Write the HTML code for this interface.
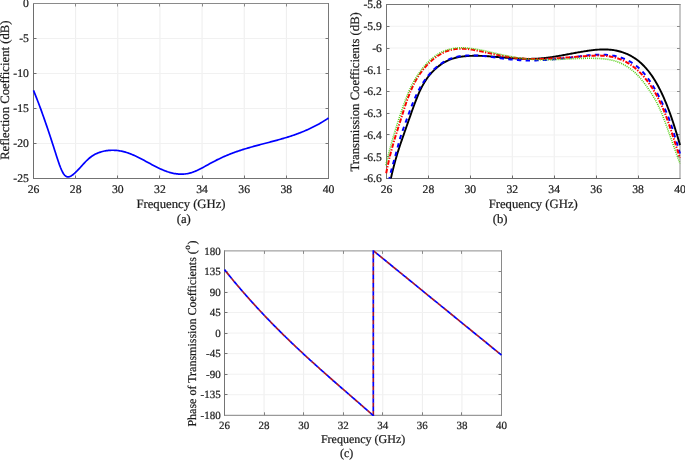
<!DOCTYPE html>
<html><head><meta charset="utf-8"><title>Figure</title>
<style>
html,body{margin:0;padding:0;background:#fff;}
body{width:685px;height:461px;overflow:hidden;font-family:"Liberation Serif",serif;}
svg{display:block;position:absolute;left:0;top:0;will-change:transform;font-family:"Liberation Serif",serif;}
text{text-rendering:geometricPrecision;stroke:#1c1c1c;stroke-width:0.22px;}
</style></head><body>
<svg width="685" height="461" viewBox="0 0 685 461">
<rect x="0" y="0" width="685" height="461" fill="#ffffff"/>
<path d="M75.64 3.50V178.50M117.79 3.50V178.50M159.93 3.50V178.50M202.07 3.50V178.50M244.21 3.50V178.50M286.36 3.50V178.50" stroke="#ededed" stroke-width="1" fill="none"/>
<path d="M33.50 38.50H328.50M33.50 73.50H328.50M33.50 108.50H328.50M33.50 143.50H328.50" stroke="#f1f1f1" stroke-width="1" fill="none"/>
<g fill="none" stroke-width="1">
<path d="M33.50 38.50h3.00M33.50 73.50h3.00M33.50 108.50h3.00M33.50 143.50h3.00M33.50 3.00V179.00" stroke="#6e6e6e"/>
<path d="M75.50 3.50v3.00M117.50 3.50v3.00M159.50 3.50v3.00M202.50 3.50v3.00M244.50 3.50v3.00M286.50 3.50v3.00M33.00 3.50H329.00" stroke="#8a8a8a"/>
<path d="M328.50 38.50h-3.00M328.50 73.50h-3.00M328.50 108.50h-3.00M328.50 143.50h-3.00M328.50 3.00V179.00" stroke="#787878"/>
<path d="M75.50 178.50v-3.00M117.50 178.50v-3.00M159.50 178.50v-3.00M202.50 178.50v-3.00M244.50 178.50v-3.00M286.50 178.50v-3.00M33.00 178.50H329.00" stroke="#737373"/>
</g>
<path d="M33.50 90.40L34.50 92.84 35.50 95.33 36.50 97.86 37.50 100.44 38.50 103.06 39.50 105.72 40.50 108.42 41.50 111.16 42.50 113.94 43.50 116.75 44.50 119.60 45.50 122.48 46.50 125.39 47.50 128.33 48.50 131.30 49.50 134.30 50.50 137.32 51.50 140.37 52.50 143.45 53.50 146.54 54.50 149.66 55.50 152.79 56.50 155.93 57.50 159.02 58.50 162.02 59.50 164.87 60.50 167.52 61.50 169.91 62.50 172.00 63.50 173.73 64.50 175.06 65.50 176.00 66.50 176.60 67.50 176.88 68.50 176.89 69.50 176.66 70.50 176.25 71.50 175.67 72.50 174.98 73.50 174.21 74.50 173.36 75.50 172.45 76.50 171.48 77.50 170.46 78.50 169.41 79.50 168.33 80.50 167.23 81.50 166.12 82.50 165.01 83.50 163.91 84.50 162.83 85.50 161.77 86.50 160.76 87.50 159.78 88.50 158.87 89.50 158.01 90.50 157.22 91.50 156.49 92.50 155.81 93.50 155.19 94.50 154.61 95.50 154.08 96.50 153.60 97.50 153.16 98.50 152.76 99.50 152.40 100.50 152.07 101.50 151.76 102.50 151.49 103.50 151.25 104.50 151.03 105.50 150.84 106.50 150.67 107.50 150.54 108.50 150.42 109.50 150.34 110.50 150.28 111.50 150.24 112.50 150.23 113.50 150.24 114.50 150.28 115.50 150.34 116.50 150.42 117.50 150.53 118.50 150.66 119.50 150.81 120.50 150.99 121.50 151.18 122.50 151.40 123.50 151.64 124.50 151.90 125.50 152.18 126.50 152.48 127.50 152.80 128.50 153.14 129.50 153.50 130.50 153.88 131.50 154.27 132.50 154.69 133.50 155.12 134.50 155.56 135.50 156.02 136.50 156.49 137.50 156.98 138.50 157.47 139.50 157.97 140.50 158.49 141.50 159.01 142.50 159.53 143.50 160.07 144.50 160.60 145.50 161.14 146.50 161.69 147.50 162.23 148.50 162.77 149.50 163.32 150.50 163.86 151.50 164.40 152.50 164.93 153.50 165.46 154.50 165.98 155.50 166.50 156.50 167.00 157.50 167.50 158.50 167.99 159.50 168.47 160.50 168.93 161.50 169.38 162.50 169.81 163.50 170.23 164.50 170.64 165.50 171.02 166.50 171.39 167.50 171.74 168.50 172.06 169.50 172.37 170.50 172.65 171.50 172.91 172.50 173.14 173.50 173.36 174.50 173.55 175.50 173.71 176.50 173.85 177.50 173.96 178.50 174.05 179.50 174.11 180.50 174.15 181.50 174.15 182.50 174.13 183.50 174.08 184.50 174.00 185.50 173.89 186.50 173.75 187.50 173.58 188.50 173.38 189.50 173.14 190.50 172.87 191.50 172.58 192.50 172.25 193.50 171.89 194.50 171.51 195.50 171.10 196.50 170.67 197.50 170.22 198.50 169.75 199.50 169.26 200.50 168.76 201.50 168.24 202.50 167.71 203.50 167.18 204.50 166.63 205.50 166.08 206.50 165.52 207.50 164.97 208.50 164.41 209.50 163.85 210.50 163.30 211.50 162.75 212.50 162.20 213.50 161.67 214.50 161.15 215.50 160.63 216.50 160.12 217.50 159.63 218.50 159.14 219.50 158.66 220.50 158.18 221.50 157.72 222.50 157.26 223.50 156.82 224.50 156.38 225.50 155.94 226.50 155.52 227.50 155.10 228.50 154.69 229.50 154.29 230.50 153.90 231.50 153.51 232.50 153.13 233.50 152.76 234.50 152.39 235.50 152.03 236.50 151.67 237.50 151.33 238.50 150.98 239.50 150.65 240.50 150.32 241.50 149.99 242.50 149.67 243.50 149.36 244.50 149.05 245.50 148.74 246.50 148.44 247.50 148.14 248.50 147.85 249.50 147.56 250.50 147.27 251.50 146.99 252.50 146.71 253.50 146.43 254.50 146.16 255.50 145.88 256.50 145.61 257.50 145.35 258.50 145.08 259.50 144.81 260.50 144.55 261.50 144.29 262.50 144.03 263.50 143.77 264.50 143.50 265.50 143.24 266.50 142.98 267.50 142.72 268.50 142.46 269.50 142.20 270.50 141.94 271.50 141.67 272.50 141.41 273.50 141.14 274.50 140.88 275.50 140.61 276.50 140.33 277.50 140.06 278.50 139.78 279.50 139.50 280.50 139.22 281.50 138.94 282.50 138.65 283.50 138.36 284.50 138.06 285.50 137.76 286.50 137.45 287.50 137.15 288.50 136.83 289.50 136.51 290.50 136.19 291.50 135.86 292.50 135.53 293.50 135.19 294.50 134.84 295.50 134.49 296.50 134.13 297.50 133.76 298.50 133.39 299.50 133.01 300.50 132.63 301.50 132.23 302.50 131.83 303.50 131.42 304.50 131.01 305.50 130.58 306.50 130.15 307.50 129.70 308.50 129.25 309.50 128.79 310.50 128.32 311.50 127.84 312.50 127.35 313.50 126.85 314.50 126.34 315.50 125.82 316.50 125.29 317.50 124.75 318.50 124.20 319.50 123.64 320.50 123.06 321.50 122.47 322.50 121.87 323.50 121.26 324.50 120.64 325.50 120.00 326.50 119.36 327.50 118.69 328.50 118.02" stroke="#0000ff" stroke-width="1.7" fill="none" stroke-linejoin="round"/>
<g font-size="11.70" fill="#1c1c1c">
<g text-anchor="middle">
<text x="33.50" y="192.90">26</text>
<text x="75.64" y="192.90">28</text>
<text x="117.79" y="192.90">30</text>
<text x="159.93" y="192.90">32</text>
<text x="202.07" y="192.90">34</text>
<text x="244.21" y="192.90">36</text>
<text x="286.36" y="192.90">38</text>
<text x="328.50" y="192.90">40</text>
</g><g text-anchor="end">
<text x="28.90" y="7.40">0</text>
<text x="28.90" y="42.40">-5</text>
<text x="28.90" y="77.40">-10</text>
<text x="28.90" y="112.40">-15</text>
<text x="28.90" y="147.40">-20</text>
<text x="28.90" y="182.40">-25</text>
</g></g>
<g font-size="12.7" fill="#1c1c1c" text-anchor="middle">
<text x="181" y="208.1">Frequency (GHz)</text>
<text x="183.8" y="223.2">(a)</text>
<text transform="translate(8.7 90.2) rotate(-90)">Reflection Coefficient (dB)</text>
</g>
<path d="M428.43 4.50V178.50M470.36 4.50V178.50M512.29 4.50V178.50M554.21 4.50V178.50M596.14 4.50V178.50M638.07 4.50V178.50" stroke="#ededed" stroke-width="1" fill="none"/>
<path d="M386.50 26.25H680.00M386.50 48.00H680.00M386.50 69.75H680.00M386.50 91.50H680.00M386.50 113.25H680.00M386.50 135.00H680.00M386.50 156.75H680.00" stroke="#f1f1f1" stroke-width="1" fill="none"/>
<g fill="none" stroke-width="1">
<path d="M386.50 26.50h3.00M386.50 48.50h3.00M386.50 69.50h3.00M386.50 91.50h3.00M386.50 113.50h3.00M386.50 134.50h3.00M386.50 156.50h3.00M386.50 4.00V179.00" stroke="#747474"/>
<path d="M428.50 4.50v3.00M470.50 4.50v3.00M512.50 4.50v3.00M554.50 4.50v3.00M596.50 4.50v3.00M638.50 4.50v3.00M386.00 4.50H680.50" stroke="#767676"/>
<path d="M680.00 26.50h-3.00M680.00 48.50h-3.00M680.00 69.50h-3.00M680.00 91.50h-3.00M680.00 113.50h-3.00M680.00 134.50h-3.00M680.00 156.50h-3.00M680.00 4.00V179.00" stroke="#8e8e8e"/>
<path d="M428.50 178.50v-3.00M470.50 178.50v-3.00M512.50 178.50v-3.00M554.50 178.50v-3.00M596.50 178.50v-3.00M638.50 178.50v-3.00M386.00 178.50H680.50" stroke="#6a6a6a"/>
</g>
<clipPath id="cb"><rect x="385.00" y="4.50" width="296.00" height="174.00"/></clipPath>
<g clip-path="url(#cb)" fill="none" stroke-linejoin="round">
<path d="M388.60 189.87L389.60 184.60 390.60 179.72 391.60 175.19 392.61 170.95 393.61 166.97 394.61 163.19 395.61 159.59 396.61 156.14 397.61 152.83 398.61 149.64 399.62 146.54 400.62 143.53 401.62 140.58 402.62 137.69 403.62 134.83 404.62 131.99 405.62 129.15 406.62 126.30 407.63 123.44 408.63 120.56 409.63 117.69 410.63 114.83 411.63 112.00 412.63 109.20 413.63 106.45 414.64 103.75 415.64 101.11 416.64 98.56 417.64 96.09 418.64 93.73 419.64 91.47 420.64 89.33 421.65 87.32 422.65 85.43 423.65 83.65 424.65 81.97 425.65 80.40 426.65 78.91 427.65 77.52 428.65 76.20 429.66 74.95 430.66 73.77 431.66 72.65 432.66 71.59 433.66 70.57 434.66 69.59 435.66 68.66 436.67 67.78 437.67 66.93 438.67 66.13 439.67 65.37 440.67 64.65 441.67 63.96 442.67 63.31 443.68 62.70 444.68 62.12 445.68 61.58 446.68 61.07 447.68 60.59 448.68 60.14 449.68 59.73 450.69 59.34 451.69 58.97 452.69 58.64 453.69 58.33 454.69 58.04 455.69 57.78 456.69 57.53 457.69 57.31 458.70 57.11 459.70 56.93 460.70 56.77 461.70 56.62 462.70 56.49 463.70 56.37 464.70 56.27 465.71 56.18 466.71 56.10 467.71 56.03 468.71 55.97 469.71 55.92 470.71 55.87 471.71 55.84 472.72 55.81 473.72 55.80 474.72 55.79 475.72 55.78 476.72 55.79 477.72 55.80 478.72 55.82 479.73 55.84 480.73 55.87 481.73 55.91 482.73 55.95 483.73 55.99 484.73 56.05 485.73 56.10 486.73 56.16 487.74 56.22 488.74 56.29 489.74 56.36 490.74 56.44 491.74 56.51 492.74 56.59 493.74 56.67 494.75 56.76 495.75 56.84 496.75 56.93 497.75 57.02 498.75 57.11 499.75 57.20 500.75 57.29 501.76 57.38 502.76 57.46 503.76 57.55 504.76 57.64 505.76 57.73 506.76 57.82 507.76 57.90 508.76 57.98 509.77 58.06 510.77 58.14 511.77 58.21 512.77 58.29 513.77 58.35 514.77 58.42 515.77 58.48 516.78 58.54 517.78 58.59 518.78 58.64 519.78 58.68 520.78 58.72 521.78 58.76 522.78 58.79 523.79 58.81 524.79 58.83 525.79 58.85 526.79 58.86 527.79 58.86 528.79 58.86 529.79 58.85 530.80 58.84 531.80 58.82 532.80 58.80 533.80 58.77 534.80 58.73 535.80 58.69 536.80 58.64 537.80 58.58 538.81 58.52 539.81 58.45 540.81 58.38 541.81 58.29 542.81 58.20 543.81 58.10 544.81 58.00 545.82 57.89 546.82 57.77 547.82 57.64 548.82 57.51 549.82 57.37 550.82 57.23 551.82 57.08 552.83 56.92 553.83 56.76 554.83 56.60 555.83 56.44 556.83 56.27 557.83 56.09 558.83 55.92 559.84 55.74 560.84 55.57 561.84 55.38 562.84 55.20 563.84 55.02 564.84 54.84 565.84 54.65 566.84 54.46 567.85 54.28 568.85 54.09 569.85 53.90 570.85 53.72 571.85 53.53 572.85 53.35 573.85 53.16 574.86 52.98 575.86 52.79 576.86 52.61 577.86 52.43 578.86 52.26 579.86 52.08 580.86 51.91 581.87 51.74 582.87 51.57 583.87 51.41 584.87 51.25 585.87 51.09 586.87 50.94 587.87 50.79 588.87 50.64 589.88 50.50 590.88 50.37 591.88 50.24 592.88 50.13 593.88 50.01 594.88 49.91 595.88 49.82 596.89 49.73 597.89 49.65 598.89 49.59 599.89 49.53 600.89 49.49 601.89 49.46 602.89 49.44 603.90 49.43 604.90 49.44 605.90 49.46 606.90 49.49 607.90 49.54 608.90 49.60 609.90 49.68 610.91 49.78 611.91 49.89 612.91 50.02 613.91 50.17 614.91 50.34 615.91 50.53 616.91 50.73 617.91 50.96 618.92 51.21 619.92 51.47 620.92 51.76 621.92 52.07 622.92 52.41 623.92 52.77 624.92 53.15 625.93 53.55 626.93 53.98 627.93 54.44 628.93 54.92 629.93 55.42 630.93 55.96 631.93 56.52 632.94 57.11 633.94 57.73 634.94 58.38 635.94 59.07 636.94 59.79 637.94 60.55 638.94 61.35 639.95 62.19 640.95 63.07 641.95 63.99 642.95 64.96 643.95 65.97 644.95 67.03 645.95 68.14 646.95 69.30 647.96 70.51 648.96 71.78 649.96 73.10 650.96 74.47 651.96 75.91 652.96 77.40 653.96 78.96 654.97 80.58 655.97 82.26 656.97 84.01 657.97 85.82 658.97 87.71 659.97 89.66 660.97 91.69 661.98 93.78 662.98 95.96 663.98 98.21 664.98 100.54 665.98 102.94 666.98 105.43 667.98 108.00 668.98 110.64 669.99 113.37 670.99 116.18 671.99 119.07 672.99 122.04 673.99 125.09 674.99 128.22 675.99 131.43 677.00 134.73 678.00 138.11 679.00 141.57 680.00 145.12" stroke="#000" stroke-width="1.9"/>
<path d="M387.40 189.80L388.40 183.64 389.40 178.43 390.40 173.96 391.39 170.01 392.39 166.37 393.39 162.83 394.39 159.26 395.39 155.64 396.39 151.96 397.39 148.21 398.38 144.46 399.38 140.83 400.38 137.40 401.38 134.24 402.38 131.29 403.38 128.48 404.38 125.75 405.38 123.03 406.37 120.29 407.37 117.54 408.37 114.79 409.37 112.07 410.37 109.39 411.37 106.76 412.37 104.20 413.36 101.73 414.36 99.37 415.36 97.11 416.36 94.95 417.36 92.88 418.36 90.91 419.36 89.03 420.35 87.22 421.35 85.51 422.35 83.86 423.35 82.30 424.35 80.80 425.35 79.37 426.35 78.01 427.35 76.70 428.34 75.46 429.34 74.27 430.34 73.13 431.34 72.04 432.34 71.00 433.34 70.00 434.34 69.04 435.33 68.13 436.33 67.26 437.33 66.42 438.33 65.63 439.33 64.87 440.33 64.15 441.33 63.47 442.32 62.82 443.32 62.20 444.32 61.62 445.32 61.08 446.32 60.56 447.32 60.08 448.32 59.62 449.32 59.20 450.31 58.80 451.31 58.43 452.31 58.09 453.31 57.77 454.31 57.48 455.31 57.21 456.31 56.96 457.30 56.74 458.30 56.54 459.30 56.35 460.30 56.19 461.30 56.04 462.30 55.92 463.30 55.80 464.29 55.71 465.29 55.63 466.29 55.56 467.29 55.50 468.29 55.46 469.29 55.43 470.29 55.41 471.29 55.40 472.28 55.40 473.28 55.42 474.28 55.44 475.28 55.47 476.28 55.51 477.28 55.56 478.28 55.61 479.27 55.68 480.27 55.75 481.27 55.83 482.27 55.91 483.27 56.00 484.27 56.10 485.27 56.20 486.26 56.31 487.26 56.42 488.26 56.54 489.26 56.66 490.26 56.79 491.26 56.91 492.26 57.04 493.26 57.18 494.25 57.31 495.25 57.45 496.25 57.58 497.25 57.72 498.25 57.86 499.25 58.00 500.25 58.14 501.24 58.27 502.24 58.41 503.24 58.54 504.24 58.68 505.24 58.81 506.24 58.94 507.24 59.06 508.23 59.18 509.23 59.30 510.23 59.41 511.23 59.52 512.23 59.62 513.23 59.72 514.23 59.82 515.23 59.90 516.22 59.98 517.22 60.06 518.22 60.12 519.22 60.18 520.22 60.24 521.22 60.29 522.22 60.33 523.21 60.37 524.21 60.40 525.21 60.43 526.21 60.45 527.21 60.47 528.21 60.48 529.21 60.48 530.20 60.48 531.20 60.48 532.20 60.47 533.20 60.45 534.20 60.44 535.20 60.41 536.20 60.38 537.20 60.35 538.19 60.32 539.19 60.28 540.19 60.23 541.19 60.18 542.19 60.13 543.19 60.07 544.19 60.02 545.18 59.95 546.18 59.89 547.18 59.82 548.18 59.74 549.18 59.67 550.18 59.59 551.18 59.50 552.17 59.42 553.17 59.33 554.17 59.24 555.17 59.15 556.17 59.05 557.17 58.95 558.17 58.85 559.17 58.75 560.16 58.65 561.16 58.54 562.16 58.43 563.16 58.32 564.16 58.21 565.16 58.10 566.16 57.98 567.15 57.87 568.15 57.75 569.15 57.63 570.15 57.51 571.15 57.39 572.15 57.27 573.15 57.15 574.14 57.02 575.14 56.90 576.14 56.78 577.14 56.65 578.14 56.53 579.14 56.40 580.14 56.28 581.14 56.16 582.13 56.03 583.13 55.91 584.13 55.80 585.13 55.68 586.13 55.57 587.13 55.46 588.13 55.36 589.12 55.26 590.12 55.17 591.12 55.08 592.12 55.00 593.12 54.93 594.12 54.86 595.12 54.80 596.11 54.75 597.11 54.71 598.11 54.68 599.11 54.66 600.11 54.64 601.11 54.64 602.11 54.65 603.11 54.68 604.10 54.71 605.10 54.76 606.10 54.82 607.10 54.89 608.10 54.98 609.10 55.09 610.10 55.21 611.09 55.34 612.09 55.50 613.09 55.67 614.09 55.85 615.09 56.06 616.09 56.28 617.09 56.52 618.08 56.78 619.08 57.06 620.08 57.37 621.08 57.69 622.08 58.03 623.08 58.40 624.08 58.79 625.08 59.20 626.07 59.63 627.07 60.10 628.07 60.59 629.07 61.11 630.07 61.66 631.07 62.24 632.07 62.86 633.06 63.51 634.06 64.20 635.06 64.93 636.06 65.69 637.06 66.50 638.06 67.35 639.06 68.24 640.05 69.18 641.05 70.17 642.05 71.20 643.05 72.29 644.05 73.42 645.05 74.61 646.05 75.85 647.05 77.15 648.04 78.50 649.04 79.91 650.04 81.37 651.04 82.88 652.04 84.44 653.04 86.05 654.04 87.71 655.03 89.42 656.03 91.18 657.03 92.98 658.03 94.83 659.03 96.72 660.03 98.66 661.03 100.64 662.02 102.67 663.02 104.75 664.02 106.91 665.02 109.14 666.02 111.45 667.02 113.85 668.02 116.34 669.02 118.95 670.01 121.66 671.01 124.50 672.01 127.46 673.01 130.53 674.01 133.69 675.01 136.93 676.01 140.21 677.00 143.53 678.00 146.86 679.00 150.18 680.00 153.48" stroke="#0000ff" stroke-width="2" stroke-dasharray="4.4 4.3"/>
<path d="M386.20 173.26L387.20 168.14 388.20 163.42 389.20 159.03 390.20 154.93 391.20 151.07 392.20 147.41 393.20 143.90 394.19 140.52 395.19 137.23 396.19 134.01 397.19 130.84 398.19 127.69 399.19 124.55 400.19 121.37 401.19 118.19 402.19 115.01 403.19 111.86 404.19 108.76 405.19 105.72 406.19 102.77 407.19 99.92 408.19 97.19 409.18 94.58 410.18 92.09 411.18 89.72 412.18 87.49 413.18 85.37 414.18 83.37 415.18 81.48 416.18 79.70 417.18 78.01 418.18 76.40 419.18 74.88 420.18 73.44 421.18 72.06 422.18 70.75 423.17 69.48 424.17 68.27 425.17 67.10 426.17 65.97 427.17 64.89 428.17 63.84 429.17 62.84 430.17 61.87 431.17 60.95 432.17 60.06 433.17 59.22 434.17 58.41 435.17 57.64 436.17 56.90 437.17 56.20 438.16 55.54 439.16 54.91 440.16 54.32 441.16 53.75 442.16 53.23 443.16 52.73 444.16 52.27 445.16 51.83 446.16 51.43 447.16 51.06 448.16 50.72 449.16 50.40 450.16 50.12 451.16 49.86 452.16 49.63 453.15 49.42 454.15 49.24 455.15 49.09 456.15 48.96 457.15 48.86 458.15 48.78 459.15 48.72 460.15 48.68 461.15 48.67 462.15 48.67 463.15 48.70 464.15 48.74 465.15 48.80 466.15 48.88 467.14 48.97 468.14 49.08 469.14 49.20 470.14 49.33 471.14 49.48 472.14 49.63 473.14 49.80 474.14 49.97 475.14 50.16 476.14 50.35 477.14 50.55 478.14 50.75 479.14 50.96 480.14 51.17 481.14 51.38 482.13 51.60 483.13 51.81 484.13 52.03 485.13 52.25 486.13 52.46 487.13 52.68 488.13 52.90 489.13 53.12 490.13 53.33 491.13 53.55 492.13 53.76 493.13 53.98 494.13 54.19 495.13 54.40 496.13 54.61 497.12 54.81 498.12 55.01 499.12 55.21 500.12 55.41 501.12 55.60 502.12 55.80 503.12 55.98 504.12 56.16 505.12 56.34 506.12 56.52 507.12 56.69 508.12 56.85 509.12 57.01 510.12 57.16 511.11 57.31 512.11 57.45 513.11 57.59 514.11 57.72 515.11 57.84 516.11 57.96 517.11 58.06 518.11 58.17 519.11 58.26 520.11 58.35 521.11 58.44 522.11 58.51 523.11 58.58 524.11 58.65 525.11 58.71 526.10 58.76 527.10 58.81 528.10 58.85 529.10 58.89 530.10 58.92 531.10 58.95 532.10 58.97 533.10 58.99 534.10 59.00 535.10 59.01 536.10 59.02 537.10 59.02 538.10 59.01 539.10 59.00 540.10 58.99 541.09 58.97 542.09 58.95 543.09 58.93 544.09 58.90 545.09 58.87 546.09 58.83 547.09 58.79 548.09 58.75 549.09 58.71 550.09 58.66 551.09 58.61 552.09 58.56 553.09 58.51 554.09 58.45 555.09 58.39 556.08 58.33 557.08 58.26 558.08 58.20 559.08 58.13 560.08 58.06 561.08 57.99 562.08 57.92 563.08 57.85 564.08 57.77 565.08 57.70 566.08 57.62 567.08 57.55 568.08 57.47 569.08 57.39 570.07 57.31 571.07 57.23 572.07 57.15 573.07 57.07 574.07 56.99 575.07 56.91 576.07 56.83 577.07 56.76 578.07 56.68 579.07 56.60 580.07 56.52 581.07 56.45 582.07 56.37 583.07 56.30 584.07 56.22 585.06 56.15 586.06 56.08 587.06 56.01 588.06 55.95 589.06 55.88 590.06 55.83 591.06 55.77 592.06 55.72 593.06 55.68 594.06 55.65 595.06 55.62 596.06 55.60 597.06 55.59 598.06 55.58 599.06 55.59 600.05 55.61 601.05 55.64 602.05 55.68 603.05 55.73 604.05 55.80 605.05 55.88 606.05 55.98 607.05 56.09 608.05 56.21 609.05 56.36 610.05 56.52 611.05 56.70 612.05 56.89 613.05 57.11 614.04 57.34 615.04 57.60 616.04 57.88 617.04 58.18 618.04 58.50 619.04 58.84 620.04 59.21 621.04 59.60 622.04 60.02 623.04 60.46 624.04 60.93 625.04 61.43 626.04 61.95 627.04 62.51 628.04 63.09 629.03 63.70 630.03 64.34 631.03 65.01 632.03 65.72 633.03 66.45 634.03 67.22 635.03 68.03 636.03 68.87 637.03 69.74 638.03 70.65 639.03 71.60 640.03 72.59 641.03 73.61 642.03 74.68 643.03 75.79 644.02 76.93 645.02 78.13 646.02 79.36 647.02 80.64 648.02 81.97 649.02 83.34 650.02 84.75 651.02 86.22 652.02 87.74 653.02 89.30 654.02 90.91 655.02 92.59 656.02 94.32 657.02 96.11 658.01 97.98 659.01 99.93 660.01 101.95 661.01 104.06 662.01 106.26 663.01 108.56 664.01 110.96 665.01 113.47 666.01 116.08 667.01 118.79 668.01 121.58 669.01 124.44 670.01 127.37 671.01 130.35 672.01 133.38 673.00 136.44 674.00 139.53 675.00 142.63 676.00 145.73 677.00 148.83 678.00 151.91 679.00 154.96 680.00 157.98" stroke="#ff0000" stroke-width="2" stroke-dasharray="4.6 1.4 1.3 1.4"/>
<path d="M385.80 165.30L386.80 161.16 387.80 157.14 388.80 153.23 389.80 149.42 390.80 145.72 391.80 142.11 392.80 138.59 393.81 135.16 394.81 131.81 395.81 128.53 396.81 125.32 397.81 122.18 398.81 119.09 399.81 116.06 400.81 113.08 401.81 110.14 402.81 107.24 403.81 104.41 404.81 101.65 405.81 98.97 406.81 96.37 407.81 93.88 408.82 91.50 409.82 89.25 410.82 87.13 411.82 85.13 412.82 83.25 413.82 81.46 414.82 79.75 415.82 78.10 416.82 76.51 417.82 74.98 418.82 73.49 419.82 72.06 420.82 70.68 421.82 69.34 422.83 68.06 423.83 66.82 424.83 65.63 425.83 64.49 426.83 63.40 427.83 62.35 428.83 61.34 429.83 60.38 430.83 59.47 431.83 58.59 432.83 57.76 433.83 56.97 434.83 56.22 435.83 55.51 436.83 54.83 437.84 54.20 438.84 53.60 439.84 53.03 440.84 52.50 441.84 52.00 442.84 51.54 443.84 51.11 444.84 50.71 445.84 50.34 446.84 50.00 447.84 49.69 448.84 49.40 449.84 49.15 450.84 48.91 451.84 48.71 452.85 48.52 453.85 48.36 454.85 48.23 455.85 48.11 456.85 48.02 457.85 47.94 458.85 47.88 459.85 47.84 460.85 47.82 461.85 47.82 462.85 47.83 463.85 47.85 464.85 47.89 465.85 47.94 466.86 48.00 467.86 48.08 468.86 48.17 469.86 48.27 470.86 48.38 471.86 48.51 472.86 48.64 473.86 48.78 474.86 48.93 475.86 49.10 476.86 49.26 477.86 49.44 478.86 49.63 479.86 49.82 480.86 50.01 481.87 50.22 482.87 50.42 483.87 50.64 484.87 50.85 485.87 51.07 486.87 51.30 487.87 51.53 488.87 51.76 489.87 51.99 490.87 52.22 491.87 52.45 492.87 52.69 493.87 52.92 494.87 53.16 495.87 53.39 496.88 53.62 497.88 53.85 498.88 54.08 499.88 54.30 500.88 54.52 501.88 54.74 502.88 54.96 503.88 55.17 504.88 55.38 505.88 55.59 506.88 55.79 507.88 55.99 508.88 56.18 509.88 56.38 510.89 56.56 511.89 56.75 512.89 56.93 513.89 57.10 514.89 57.27 515.89 57.44 516.89 57.60 517.89 57.75 518.89 57.90 519.89 58.05 520.89 58.19 521.89 58.32 522.89 58.45 523.89 58.58 524.89 58.69 525.90 58.81 526.90 58.91 527.90 59.01 528.90 59.10 529.90 59.19 530.90 59.27 531.90 59.34 532.90 59.40 533.90 59.46 534.90 59.52 535.90 59.56 536.90 59.60 537.90 59.64 538.90 59.67 539.90 59.69 540.91 59.71 541.91 59.73 542.91 59.74 543.91 59.74 544.91 59.74 545.91 59.74 546.91 59.73 547.91 59.72 548.91 59.70 549.91 59.68 550.91 59.66 551.91 59.64 552.91 59.61 553.91 59.58 554.91 59.55 555.92 59.51 556.92 59.47 557.92 59.43 558.92 59.39 559.92 59.35 560.92 59.31 561.92 59.26 562.92 59.21 563.92 59.17 564.92 59.12 565.92 59.07 566.92 59.02 567.92 58.98 568.92 58.93 569.93 58.88 570.93 58.83 571.93 58.79 572.93 58.74 573.93 58.70 574.93 58.65 575.93 58.61 576.93 58.57 577.93 58.53 578.93 58.50 579.93 58.46 580.93 58.43 581.93 58.40 582.93 58.38 583.93 58.36 584.94 58.34 585.94 58.32 586.94 58.31 587.94 58.30 588.94 58.29 589.94 58.29 590.94 58.30 591.94 58.30 592.94 58.32 593.94 58.33 594.94 58.36 595.94 58.38 596.94 58.42 597.94 58.46 598.94 58.50 599.95 58.56 600.95 58.62 601.95 58.70 602.95 58.78 603.95 58.88 604.95 58.99 605.95 59.12 606.95 59.25 607.95 59.41 608.95 59.58 609.95 59.76 610.95 59.97 611.95 60.19 612.95 60.44 613.96 60.70 614.96 60.99 615.96 61.30 616.96 61.63 617.96 61.99 618.96 62.37 619.96 62.78 620.96 63.21 621.96 63.68 622.96 64.17 623.96 64.69 624.96 65.24 625.96 65.83 626.96 66.45 627.96 67.10 628.97 67.78 629.97 68.50 630.97 69.25 631.97 70.05 632.97 70.88 633.97 71.74 634.97 72.65 635.97 73.60 636.97 74.59 637.97 75.62 638.97 76.70 639.97 77.82 640.97 78.98 641.97 80.19 642.97 81.43 643.98 82.72 644.98 84.05 645.98 85.41 646.98 86.81 647.98 88.25 648.98 89.73 649.98 91.23 650.98 92.77 651.98 94.34 652.98 95.95 653.98 97.58 654.98 99.27 655.98 101.04 656.98 102.92 657.99 104.93 658.99 107.05 659.99 109.29 660.99 111.62 661.99 114.05 662.99 116.56 663.99 119.13 664.99 121.77 665.99 124.46 666.99 127.19 667.99 129.96 668.99 132.76 669.99 135.58 670.99 138.42 671.99 141.26 673.00 144.11 674.00 146.95 675.00 149.77 676.00 152.58 677.00 155.36 678.00 158.10 679.00 160.80 680.00 163.46" stroke="#52cf14" stroke-width="1.6" stroke-dasharray="1 1.05"/>
</g>
<g font-size="11.70" fill="#1c1c1c">
<g text-anchor="middle">
<text x="386.50" y="192.90">26</text>
<text x="428.43" y="192.90">28</text>
<text x="470.36" y="192.90">30</text>
<text x="512.29" y="192.90">32</text>
<text x="554.21" y="192.90">34</text>
<text x="596.14" y="192.90">36</text>
<text x="638.07" y="192.90">38</text>
<text x="680.00" y="192.90">40</text>
</g><g text-anchor="end">
<text x="381.90" y="8.40">-5.8</text>
<text x="381.90" y="30.15">-5.9</text>
<text x="381.90" y="51.90">-6</text>
<text x="381.90" y="73.65">-6.1</text>
<text x="381.90" y="95.40">-6.2</text>
<text x="381.90" y="117.15">-6.3</text>
<text x="381.90" y="138.90">-6.4</text>
<text x="381.90" y="160.65">-6.5</text>
<text x="381.90" y="182.40">-6.6</text>
</g></g>
<g font-size="12.7" fill="#1c1c1c" text-anchor="middle">
<text x="533.2" y="208.1">Frequency (GHz)</text>
<text x="500.1" y="223.3">(b)</text>
<text transform="translate(358.9 91.8) rotate(-90)">Transmission Coefficients (dB)</text>
</g>
<path d="M264.07 250.90V415.30M303.64 250.90V415.30M343.21 250.90V415.30M382.79 250.90V415.30M422.36 250.90V415.30M461.93 250.90V415.30" stroke="#ededed" stroke-width="1" fill="none"/>
<path d="M224.50 271.45H501.50M224.50 292.00H501.50M224.50 312.55H501.50M224.50 333.10H501.50M224.50 353.65H501.50M224.50 374.20H501.50M224.50 394.75H501.50" stroke="#f1f1f1" stroke-width="1" fill="none"/>
<g fill="none" stroke-width="1">
<path d="M224.50 271.50h3.00M224.50 292.50h3.00M224.50 312.50h3.00M224.50 333.50h3.00M224.50 353.50h3.00M224.50 374.50h3.00M224.50 394.50h3.00M224.50 250.40V415.80" stroke="#747474"/>
<path d="M264.50 250.90v3.00M303.50 250.90v3.00M343.50 250.90v3.00M382.50 250.90v3.00M422.50 250.90v3.00M461.50 250.90v3.00M224.00 250.90H502.00" stroke="#8c8c8c"/>
<path d="M501.50 271.50h-3.00M501.50 292.50h-3.00M501.50 312.50h-3.00M501.50 333.50h-3.00M501.50 353.50h-3.00M501.50 374.50h-3.00M501.50 394.50h-3.00M501.50 250.40V415.80" stroke="#8a8a8a"/>
<path d="M264.50 415.30v-3.00M303.50 415.30v-3.00M343.50 415.30v-3.00M382.50 415.30v-3.00M422.50 415.30v-3.00M461.50 415.30v-3.00M224.00 415.30H502.00" stroke="#808080"/>
</g>
<clipPath id="cc"><rect x="224.00" y="250.30" width="278.00" height="165.60"/></clipPath>
<g fill="none" stroke-linejoin="miter" clip-path="url(#cc)">
<path d="M224.50 269.65L225.50 270.90 226.50 272.14 227.50 273.38 228.49 274.62 229.49 275.84 230.49 277.07 231.49 278.28 232.49 279.49 233.49 280.70 234.49 281.90 235.49 283.09 236.48 284.28 237.48 285.46 238.48 286.64 239.48 287.81 240.48 288.98 241.48 290.14 242.48 291.30 243.47 292.45 244.47 293.59 245.47 294.74 246.47 295.87 247.47 297.00 248.47 298.13 249.47 299.25 250.47 300.37 251.46 301.48 252.46 302.59 253.46 303.69 254.46 304.79 255.46 305.88 256.46 306.97 257.46 308.05 258.45 309.13 259.45 310.21 260.45 311.28 261.45 312.34 262.45 313.41 263.45 314.47 264.45 315.52 265.44 316.57 266.44 317.61 267.44 318.66 268.44 319.69 269.44 320.73 270.44 321.76 271.44 322.78 272.44 323.80 273.43 324.82 274.43 325.84 275.43 326.85 276.43 327.86 277.43 328.86 278.43 329.86 279.43 330.86 280.42 331.85 281.42 332.84 282.42 333.82 283.42 334.81 284.42 335.79 285.42 336.76 286.42 337.74 287.42 338.71 288.41 339.68 289.41 340.64 290.41 341.60 291.41 342.56 292.41 343.51 293.41 344.47 294.41 345.42 295.40 346.36 296.40 347.31 297.40 348.25 298.40 349.19 299.40 350.12 300.40 351.06 301.40 351.99 302.40 352.92 303.39 353.85 304.39 354.77 305.39 355.69 306.39 356.61 307.39 357.53 308.39 358.44 309.39 359.36 310.38 360.27 311.38 361.18 312.38 362.08 313.38 362.99 314.38 363.89 315.38 364.79 316.38 365.69 317.38 366.59 318.37 367.49 319.37 368.38 320.37 369.28 321.37 370.17 322.37 371.06 323.37 371.95 324.37 372.83 325.36 373.72 326.36 374.60 327.36 375.49 328.36 376.37 329.36 377.25 330.36 378.13 331.36 379.01 332.36 379.88 333.35 380.76 334.35 381.64 335.35 382.51 336.35 383.38 337.35 384.26 338.35 385.13 339.35 386.00 340.34 386.87 341.34 387.74 342.34 388.61 343.34 389.48 344.34 390.35 345.34 391.22 346.34 392.08 347.33 392.95 348.33 393.82 349.33 394.68 350.33 395.55 351.33 396.42 352.33 397.28 353.33 398.15 354.33 399.01 355.32 399.88 356.32 400.75 357.32 401.61 358.32 402.48 359.32 403.34 360.32 404.21 361.32 405.08 362.31 405.94 363.31 406.81 364.31 407.68 365.31 408.55 366.31 409.42 367.31 410.29 368.31 411.16 369.31 412.03 370.30 412.90 371.30 413.77 372.30 414.64 373.30 415.52L373.3 250.7L501.5 355.1" stroke="#a2142f" stroke-width="1.7" stroke-dasharray="4.6 3.65" stroke-dashoffset="-2.7"/>
<path d="M224.50 269.65L225.50 270.90 226.50 272.14 227.50 273.38 228.49 274.62 229.49 275.84 230.49 277.07 231.49 278.28 232.49 279.49 233.49 280.70 234.49 281.90 235.49 283.09 236.48 284.28 237.48 285.46 238.48 286.64 239.48 287.81 240.48 288.98 241.48 290.14 242.48 291.30 243.47 292.45 244.47 293.59 245.47 294.74 246.47 295.87 247.47 297.00 248.47 298.13 249.47 299.25 250.47 300.37 251.46 301.48 252.46 302.59 253.46 303.69 254.46 304.79 255.46 305.88 256.46 306.97 257.46 308.05 258.45 309.13 259.45 310.21 260.45 311.28 261.45 312.34 262.45 313.41 263.45 314.47 264.45 315.52 265.44 316.57 266.44 317.61 267.44 318.66 268.44 319.69 269.44 320.73 270.44 321.76 271.44 322.78 272.44 323.80 273.43 324.82 274.43 325.84 275.43 326.85 276.43 327.86 277.43 328.86 278.43 329.86 279.43 330.86 280.42 331.85 281.42 332.84 282.42 333.82 283.42 334.81 284.42 335.79 285.42 336.76 286.42 337.74 287.42 338.71 288.41 339.68 289.41 340.64 290.41 341.60 291.41 342.56 292.41 343.51 293.41 344.47 294.41 345.42 295.40 346.36 296.40 347.31 297.40 348.25 298.40 349.19 299.40 350.12 300.40 351.06 301.40 351.99 302.40 352.92 303.39 353.85 304.39 354.77 305.39 355.69 306.39 356.61 307.39 357.53 308.39 358.44 309.39 359.36 310.38 360.27 311.38 361.18 312.38 362.08 313.38 362.99 314.38 363.89 315.38 364.79 316.38 365.69 317.38 366.59 318.37 367.49 319.37 368.38 320.37 369.28 321.37 370.17 322.37 371.06 323.37 371.95 324.37 372.83 325.36 373.72 326.36 374.60 327.36 375.49 328.36 376.37 329.36 377.25 330.36 378.13 331.36 379.01 332.36 379.88 333.35 380.76 334.35 381.64 335.35 382.51 336.35 383.38 337.35 384.26 338.35 385.13 339.35 386.00 340.34 386.87 341.34 387.74 342.34 388.61 343.34 389.48 344.34 390.35 345.34 391.22 346.34 392.08 347.33 392.95 348.33 393.82 349.33 394.68 350.33 395.55 351.33 396.42 352.33 397.28 353.33 398.15 354.33 399.01 355.32 399.88 356.32 400.75 357.32 401.61 358.32 402.48 359.32 403.34 360.32 404.21 361.32 405.08 362.31 405.94 363.31 406.81 364.31 407.68 365.31 408.55 366.31 409.42 367.31 410.29 368.31 411.16 369.31 412.03 370.30 412.90 371.30 413.77 372.30 414.64 373.30 415.52L373.3 250.7L501.5 355.1" stroke="#0000ff" stroke-width="1.7" stroke-dasharray="4.15 4.1" stroke-dashoffset="1.2"/>
</g>
<g font-size="11.00" fill="#1c1c1c">
<g text-anchor="middle">
<text x="224.50" y="428.90">26</text>
<text x="264.07" y="428.90">28</text>
<text x="303.64" y="428.90">30</text>
<text x="343.21" y="428.90">32</text>
<text x="382.79" y="428.90">34</text>
<text x="422.36" y="428.90">36</text>
<text x="461.93" y="428.90">38</text>
<text x="501.50" y="428.90">40</text>
</g><g text-anchor="end">
<text x="220.70" y="254.60">180</text>
<text x="220.70" y="275.15">135</text>
<text x="220.70" y="295.70">90</text>
<text x="220.70" y="316.25">45</text>
<text x="220.70" y="336.80">0</text>
<text x="220.70" y="357.35">-45</text>
<text x="220.70" y="377.90">-90</text>
<text x="220.70" y="398.45">-135</text>
<text x="220.70" y="419.00">-180</text>
</g></g>
<g font-size="12" fill="#1c1c1c" text-anchor="middle">
<text x="363.1" y="443.3">Frequency (GHz)</text>
<text x="346.7" y="457.4">(c)</text>
<text transform="translate(195.6 333.6) rotate(-90)">Phase of Transmission Coefficients (<tspan font-size="9" dy="-5.3" dx="0.5">o</tspan><tspan dy="5.3" dx="0.6">)</tspan></text>
</g>
</svg>
</body></html>
